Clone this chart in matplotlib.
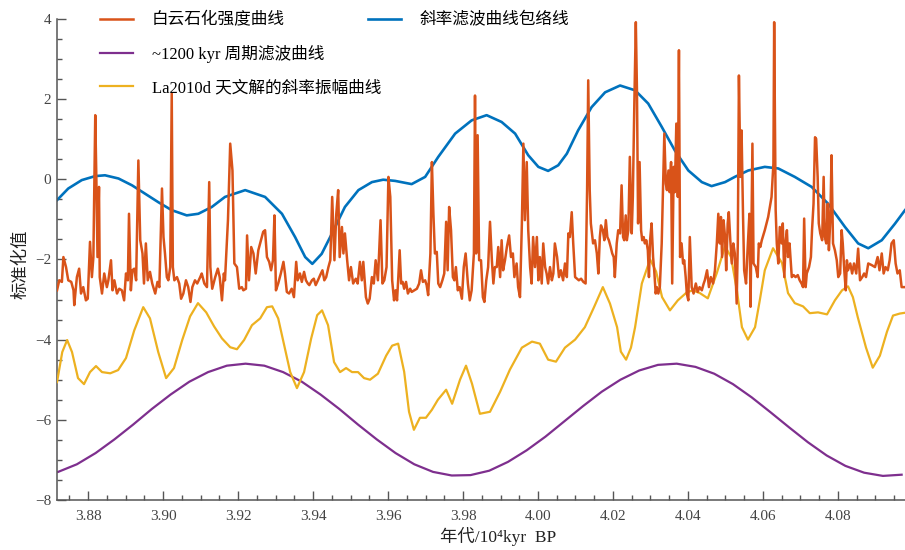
import matplotlib
matplotlib.use('Agg')
import matplotlib.pyplot as plt
from matplotlib.ticker import MultipleLocator

plt.rcParams['font.family'] = ['Liberation Serif', 'Noto Sans CJK SC']
plt.rcParams['axes.unicode_minus'] = True

# --- data (age in 10^4 kyr BP, standardized value) ---
red_age = [
    3.8717, 3.8723, 3.8730, 3.8734, 3.8741, 3.8747, 3.8755, 3.8761, 3.8763, 3.8770,
    3.8776, 3.8781, 3.8787, 3.8794, 3.8799, 3.8805, 3.8810, 3.8814, 3.8819, 3.8822,
    3.8825, 3.8829, 3.8831, 3.8837, 3.8843, 3.8850, 3.8854, 3.8861, 3.8865, 3.8870,
    3.8877, 3.8883, 3.8890, 3.8896, 3.8901, 3.8906, 3.8909, 3.8914, 3.8918, 3.8923,
    3.8928, 3.8934, 3.8939, 3.8945, 3.8949, 3.8954, 3.8959, 3.8965, 3.8971, 3.8979,
    3.8985, 3.8990, 3.8997, 3.9001, 3.9005, 3.9010, 3.9014, 3.9019, 3.9023, 3.9026,
    3.9030, 3.9037, 3.9043, 3.9048, 3.9054, 3.9061, 3.9067, 3.9073, 3.9078, 3.9085,
    3.9091, 3.9099, 3.9103, 3.9110, 3.9117, 3.9123, 3.9126, 3.9131, 3.9139, 3.9146,
    3.9151, 3.9157, 3.9162, 3.9165, 3.9173, 3.9179, 3.9185, 3.9190, 3.9197, 3.9203,
    3.9210, 3.9214, 3.9221, 3.9224, 3.9229, 3.9235, 3.9241, 3.9247, 3.9254, 3.9261,
    3.9267, 3.9272, 3.9277, 3.9283, 3.9288, 3.9293, 3.9297, 3.9301, 3.9307, 3.9314,
    3.9321, 3.9325, 3.9330, 3.9336, 3.9343, 3.9349, 3.9355, 3.9359, 3.9365, 3.9370,
    3.9376, 3.9381, 3.9386, 3.9390, 3.9397, 3.9402, 3.9407, 3.9413, 3.9419, 3.9425,
    3.9430, 3.9435, 3.9441, 3.9446, 3.9451, 3.9457, 3.9462, 3.9467, 3.9471, 3.9477,
    3.9481, 3.9485, 3.9491, 3.9496, 3.9501, 3.9507, 3.9514, 3.9519, 3.9525, 3.9530,
    3.9534, 3.9541, 3.9546, 3.9551, 3.9557, 3.9562, 3.9567, 3.9573, 3.9580, 3.9585,
    3.9590, 3.9596, 3.9601, 3.9606, 3.9611, 3.9616, 3.9620, 3.9624, 3.9627, 3.9631,
    3.9635, 3.9639, 3.9643, 3.9648, 3.9653, 3.9659, 3.9663, 3.9670, 3.9677, 3.9683,
    3.9688, 3.9693, 3.9699, 3.9703, 3.9707, 3.9713, 3.9717, 3.9721, 3.9725, 3.9730,
    3.9734, 3.9739, 3.9745, 3.9750, 3.9755, 3.9759, 3.9763, 3.9768, 3.9773, 3.9777,
    3.9781, 3.9786, 3.9791, 3.9797, 3.9802, 3.9807, 3.9813, 3.9818, 3.9823, 3.9829,
    3.9832, 3.9835, 3.9839, 3.9843, 3.9848, 3.9853, 3.9857, 3.9862, 3.9867, 3.9872,
    3.9877, 3.9881, 3.9885, 3.9890, 3.9894, 3.9899, 3.9903, 3.9907, 3.9912, 3.9917,
    3.9923, 3.9928, 3.9933, 3.9937, 3.9943, 3.9947, 3.9952, 3.9957, 3.9961, 3.9965,
    3.9970, 3.9974, 3.9979, 3.9983, 3.9987, 3.9992, 3.9997, 4.0001, 4.0005, 4.0010,
    4.0014, 4.0019, 4.0023, 4.0027, 4.0032, 4.0037, 4.0041, 4.0045, 4.0051, 4.0056,
    4.0061, 4.0067, 4.0072, 4.0077, 4.0081, 4.0085, 4.0090, 4.0094, 4.0099, 4.0104,
    4.0109, 4.0115, 4.0121, 4.0127, 4.0131, 4.0134, 4.0138, 4.0141, 4.0147, 4.0152,
    4.0157, 4.0161, 4.0165, 4.0168, 4.0173, 4.0177, 4.0181, 4.0185, 4.0189, 4.0194,
    4.0198, 4.0202, 4.0205, 4.0210, 4.0214, 4.0219, 4.0223, 4.0227, 4.0230, 4.0234,
    4.0237, 4.0241, 4.0245, 4.0250, 4.0253, 4.0257, 4.0261, 4.0264, 4.0267, 4.0271,
    4.0275, 4.0278, 4.0282, 4.0285, 4.0289, 4.0293, 4.0296, 4.0299, 4.0303, 4.0307,
    4.0310, 4.0314, 4.0317, 4.0321, 4.0325, 4.0330, 4.0333, 4.0337, 4.0341, 4.0344,
    4.0348, 4.0351, 4.0355, 4.0358, 4.0362, 4.0365, 4.0369, 4.0373, 4.0376, 4.0379,
    4.0383, 4.0387, 4.0390, 4.0394, 4.0397, 4.0401, 4.0405, 4.0410, 4.0415, 4.0421,
    4.0426, 4.0431, 4.0437, 4.0442, 4.0445, 4.0451, 4.0456, 4.0461, 4.0467, 4.0472,
    4.0477, 4.0481, 4.0485, 4.0488, 4.0491, 4.0495, 4.0499, 4.0502, 4.0506, 4.0509,
    4.0513, 4.0517, 4.0521, 4.0525, 4.0530, 4.0533, 4.0536, 4.0540, 4.0543, 4.0547,
    4.0550, 4.0555, 4.0559, 4.0564, 4.0567, 4.0572, 4.0575, 4.0581, 4.0586, 4.0589,
    4.0593, 4.0597, 4.0605, 4.0614, 4.0623, 4.0628, 4.0630, 4.0634, 4.0637, 4.0641,
    4.0645, 4.0650, 4.0653, 4.0657, 4.0661, 4.0664, 4.0667, 4.0671, 4.0677, 4.0682,
    4.0687, 4.0693, 4.0698, 4.0703, 4.0707, 4.0710, 4.0714, 4.0717, 4.0723, 4.0728,
    4.0731, 4.0735, 4.0739, 4.0742, 4.0746, 4.0749, 4.0753, 4.0758, 4.0762, 4.0765,
    4.0769, 4.0773, 4.0776, 4.0780, 4.0783, 4.0787, 4.0792, 4.0797, 4.0801, 4.0806,
    4.0810, 4.0813, 4.0817, 4.0821, 4.0824, 4.0827, 4.0833, 4.0838, 4.0843, 4.0849,
    4.0854, 4.0859, 4.0865, 4.0870, 4.0875, 4.0881, 4.0890, 4.0899, 4.0906, 4.0911,
    4.0917, 4.0922, 4.0927, 4.0933, 4.0938, 4.0943, 4.0949, 4.0954, 4.0959, 4.0965,
    4.0970, 4.0977,
]
red_val = [
    -2.77, -2.52, -2.56, -1.94, -2.19, -2.52, -2.56, -2.77, -3.14, -2.44,
    -2.23, -2.85, -2.69, -3.02, -2.98, -1.56, -2.44, -1.94, 1.60, -0.02,
    -1.94, -0.19, -2.44, -2.85, -2.35, -2.69, -2.52, -2.02, -2.77, -2.52,
    -2.85, -2.73, -2.77, -3.02, -2.35, -2.52, -0.86, -2.77, -2.27, -2.23,
    -2.52, 0.47, -1.52, -1.85, -2.60, -1.60, -2.52, -2.31, -2.60, -2.85,
    -2.56, -2.69, -0.23, -1.44, -1.85, -2.44, -2.52, -2.19, 2.14, -2.19,
    -2.52, -2.44, -2.60, -2.98, -2.85, -2.52, -2.69, -3.06, -2.69, -2.52,
    -2.60, -2.44, -2.35, -2.60, -2.69, -0.07, -2.19, -2.73, -2.44, -2.23,
    -2.44, -3.02, -2.35, -2.52, -1.02, 0.89, 0.22, -2.10, -2.19, -2.73,
    -2.69, -2.77, -2.73, -1.40, -2.52, -1.69, -1.85, -2.35, -1.77, -1.52,
    -1.31, -1.27, -1.94, -2.06, -2.27, -2.02, -0.90, -2.77, -2.60, -2.35,
    -2.06, -2.35, -2.81, -2.85, -2.73, -2.94, -2.06, -2.52, -2.35, -2.56,
    -2.31, -2.52, -2.60, -2.64, -2.52, -2.48, -2.64, -2.52, -2.39, -2.27,
    -2.52, -2.44, -2.19, -2.02, -0.44, -2.02, -0.86, -0.27, -1.94, -1.19,
    -1.85, -1.35, -2.02, -2.52, -2.19, -2.60, -2.48, -2.60, -2.06, -2.52,
    -2.06, -2.94, -3.10, -2.98, -2.44, -2.60, -2.02, -2.52, -1.02, -2.60,
    -2.52, -2.19, 0.06, -0.44, -2.52, -3.02, -2.77, -3.02, -2.52, -1.77,
    -2.60, -2.56, -2.73, -2.56, -2.85, -2.73, -2.81, -2.77, -2.73, -2.60,
    -2.27, -2.56, -2.52, -2.64, -2.89, -1.85, 0.43, -0.86, -1.85, -1.81,
    -2.60, -2.69, -2.52, -2.35, -1.06, -2.27, -0.69, -1.27, -2.44, -2.52,
    -2.19, -2.77, -2.69, -2.98, -2.19, -1.85, -2.60, -3.02, -2.77, -1.85,
    2.09, -1.85, 1.10, -2.02, -2.02, -2.94, -3.06, -2.52, -2.19, -1.06,
    -2.02, -2.60, -2.19, -2.19, -1.69, -2.44, -1.52, -2.27, -2.02, -1.69,
    -1.40, -1.94, -1.85, -2.44, -2.10, -2.69, -2.94, -1.10, 0.89, -1.02,
    0.43, -1.27, -2.19, -2.60, -1.44, -2.19, -1.44, -2.52, -1.94, -2.60,
    -1.60, -2.19, -2.35, -2.60, -2.19, -2.52, -2.35, -1.60, -1.94, -2.44,
    -2.27, -2.52, -2.10, -2.44, -1.35, -1.44, -0.82, -1.60, -2.44, -2.48,
    -2.52, -2.48, -2.56, -2.60, -0.27, 2.47, -0.27, -1.10, -1.60, -1.52,
    -1.85, -2.35, -1.44, -1.15, -1.27, -1.52, -1.02, -1.44, -1.52, -1.69,
    -1.85, -1.94, -2.44, -1.60, -1.27, -1.35, -0.15, -1.44, -1.52, -0.90,
    -1.52, -1.27, 0.56, -1.35, -0.44, 1.89, 3.92, 2.22, -1.10, 0.43,
    -1.27, -1.52, -1.44, -1.60, -1.52, -1.77, -2.44, -1.52, -1.10, -1.94,
    -2.27, -2.85, -2.69, -2.85, -2.69, -1.60, -0.44, 1.14, -0.11, -0.27,
    0.22, -0.32, 0.43, -2.60, 0.31, -0.32, 1.39, -0.44, 3.22, -1.94,
    -1.60, -2.10, -2.02, -2.44, -2.85, -3.02, -1.44, -2.69, -2.85, -2.60,
    -2.81, -2.69, -2.77, -2.60, -2.52, -2.27, -2.69, -2.44, -2.60, -2.27,
    -1.60, -0.86, -1.60, -0.94, -1.94, -1.02, -1.44, -2.27, -1.10, -0.82,
    -1.52, -2.10, -1.60, -1.85, -3.10, -1.60, 2.59, 0.06, 1.22, -0.94,
    -2.27, -2.60, -1.77, -0.86, -3.18, 0.89, -2.10, -2.19, -2.44, -1.60,
    -1.69, -1.52, -1.27, -0.94, -0.44, 0.39, 3.92, -0.77, -1.60, -2.10,
    -1.19, -1.60, -1.10, -2.44, -1.52, -1.27, -1.94, -1.60, -2.44, -2.39,
    -2.44, -2.39, -2.52, -2.60, -2.69, -0.98, -2.69, -2.35, -2.19, -1.94,
    -1.27, -0.61, 1.05, 1.01, 0.06, -1.10, -1.35, -1.52, 0.06, -1.44,
    -1.60, -0.61, -1.77, -0.94, 0.60, -1.60, -1.77, -2.02, -2.44, -2.35,
    -1.27, -1.60, -2.27, -2.77, -2.02, -2.27, -2.10, -2.35, -2.10, -2.35,
    -1.73, -2.52, -2.44, -2.35, -2.44, -2.10, -2.14, -2.19, -1.94, -2.27,
    -1.85, -2.35, -2.19, -2.27, -2.02, -1.60, -1.52, -2.10, -2.35, -2.27,
    -2.69, -2.69,
]

env_age = [
    3.8717, 3.8747, 3.8783, 3.8819, 3.8845, 3.8881, 3.8917, 3.8952, 3.8987, 3.9023,
    3.9063, 3.9094, 3.9130, 3.9165, 3.9219, 3.9272, 3.9317, 3.9352, 3.9379, 3.9398,
    3.9423, 3.9450, 3.9485, 3.9521, 3.9557, 3.9587, 3.9619, 3.9663, 3.9699, 3.9734,
    3.9779, 3.9823, 3.9863, 3.9903, 3.9939, 3.9974, 4.0001, 4.0027, 4.0054, 4.0077,
    4.0107, 4.0143, 4.0179, 4.0219, 4.0259, 4.0294, 4.0330, 4.0365, 4.0401, 4.0437,
    4.0463, 4.0499, 4.0525, 4.0561, 4.0605, 4.0641, 4.0685, 4.0730, 4.0774, 4.0819,
    4.0854, 4.0881, 4.0917, 4.0952, 4.0979,
]
env_val = [
    -0.52, -0.23, -0.02, 0.08, 0.10, 0.02, -0.15, -0.36, -0.57, -0.77,
    -0.90, -0.86, -0.69, -0.44, -0.27, -0.44, -0.86, -1.44, -1.94, -2.11,
    -1.86, -1.36, -0.69, -0.27, -0.07, -0.01, -0.04, -0.12, 0.06, 0.56,
    1.14, 1.47, 1.60, 1.43, 1.14, 0.60, 0.31, 0.21, 0.35, 0.64,
    1.22, 1.80, 2.17, 2.34, 2.22, 1.89, 1.31, 0.72, 0.22, -0.07,
    -0.17, -0.07, 0.06, 0.22, 0.31, 0.27, 0.06, -0.19, -0.61, -1.19,
    -1.60, -1.72, -1.52, -1.11, -0.77,
]

p1200_age = [
    3.872, 3.877, 3.882, 3.887, 3.892, 3.897, 3.902, 3.907, 3.912, 3.917,
    3.922, 3.927, 3.932, 3.937, 3.942, 3.947, 3.952, 3.957, 3.962, 3.967,
    3.972, 3.977, 3.982, 3.987, 3.992, 3.997, 4.002, 4.007, 4.012, 4.017,
    4.022, 4.027, 4.032, 4.037, 4.042, 4.047, 4.052, 4.057, 4.062, 4.067,
    4.072, 4.077, 4.082, 4.087, 4.092, 4.097,
]
p1200_val = [
    -7.30, -7.11, -6.83, -6.49, -6.12, -5.73, -5.37, -5.05, -4.81, -4.65,
    -4.60, -4.65, -4.81, -5.05, -5.37, -5.73, -6.12, -6.49, -6.83, -7.11,
    -7.30, -7.39, -7.38, -7.27, -7.05, -6.76, -6.42, -6.04, -5.66, -5.30,
    -5.00, -4.77, -4.63, -4.60, -4.68, -4.85, -5.11, -5.44, -5.81, -6.19,
    -6.56, -6.89, -7.15, -7.32, -7.40, -7.37,
]

la_age = [
    3.8717, 3.8731, 3.8744, 3.8757, 3.8773, 3.8789, 3.8805, 3.8821, 3.8837, 3.8859,
    3.8880, 3.8901, 3.8923, 3.8947, 3.8965, 3.8987, 3.9008, 3.9029, 3.9051, 3.9072,
    3.9093, 3.9115, 3.9136, 3.9157, 3.9179, 3.9197, 3.9216, 3.9237, 3.9259, 3.9277,
    3.9291, 3.9307, 3.9323, 3.9339, 3.9357, 3.9376, 3.9395, 3.9411, 3.9424, 3.9440,
    3.9456, 3.9472, 3.9488, 3.9504, 3.9520, 3.9536, 3.9552, 3.9573, 3.9595, 3.9611,
    3.9627, 3.9643, 3.9656, 3.9669, 3.9685, 3.9701, 3.9717, 3.9733, 3.9755, 3.9771,
    3.9792, 3.9808, 3.9824, 3.9845, 3.9872, 3.9899, 3.9925, 3.9957, 3.9984, 4.0005,
    4.0027, 4.0048, 4.0072, 4.0099, 4.0125, 4.0149, 4.0173, 4.0192, 4.0211, 4.0221,
    4.0235, 4.0248, 4.0259, 4.0277, 4.0299, 4.0315, 4.0331, 4.0352, 4.0373, 4.0397,
    4.0413, 4.0432, 4.0453, 4.0477, 4.0499, 4.0515, 4.0531, 4.0544, 4.0560, 4.0579,
    4.0592, 4.0605, 4.0627, 4.0651, 4.0667, 4.0685, 4.0707, 4.0725, 4.0747, 4.0771,
    4.0792, 4.0811, 4.0827, 4.0840, 4.0853, 4.0875, 4.0893, 4.0912, 4.0931, 4.0947,
    4.0965, 4.0979,
]
la_val = [
    -5.06, -4.31, -4.01, -4.31, -4.96, -5.11, -4.81, -4.66, -4.81, -4.84,
    -4.76, -4.46, -3.77, -3.19, -3.47, -4.31, -4.96, -4.71, -4.01, -3.42,
    -3.09, -3.32, -3.67, -3.97, -4.19, -4.24, -4.01, -3.64, -3.47, -3.19,
    -3.17, -3.47, -4.14, -4.81, -5.21, -4.81, -3.97, -3.39, -3.27, -3.64,
    -4.56, -4.81, -4.71, -4.81, -4.81, -4.96, -5.00, -4.85, -4.40, -4.15,
    -4.10, -4.80, -5.80, -6.25, -5.95, -5.95, -5.75, -5.50, -5.25, -5.60,
    -5.00, -4.65, -5.10, -5.85, -5.80, -5.30, -4.75, -4.20, -4.05, -4.10,
    -4.50, -4.55, -4.20, -4.00, -3.69, -3.20, -2.69, -3.10, -3.69, -4.30,
    -4.50, -4.20, -3.69, -2.60, -2.00, -2.30, -2.94, -3.27, -3.02, -2.82,
    -2.77, -2.84, -2.97, -2.34, -1.67, -1.94, -2.80, -3.69, -4.00, -3.69,
    -3.00, -2.27, -1.72, -2.09, -2.84, -3.09, -3.17, -3.34, -3.32, -3.37,
    -3.02, -2.77, -2.67, -2.94, -3.44, -4.20, -4.70, -4.40, -3.80, -3.40,
    -3.35, -3.33,
]

labels = ['白云石化强度曲线', '斜率滤波曲线包络线', '~1200 kyr 周期滤波曲线', 'La2010d 天文解的斜率振幅曲线']
colors = ['#D95319', '#0072BD', '#7E2F8E', '#EDB120']


def main():
    fig = plt.figure(figsize=(9.05, 5.5), dpi=100)
    ax = fig.add_axes([0.063, 0.091, 0.937, 0.8745])

    l_env, = ax.plot(env_age, env_val, color=colors[1], lw=1.9, zorder=2)
    l_p12, = ax.plot(p1200_age, p1200_val, color=colors[2], lw=1.6, zorder=2)
    l_la, = ax.plot(la_age, la_val, color=colors[3], lw=1.6, zorder=3)
    l_red, = ax.plot(red_age, red_val, color=colors[0], lw=1.8, zorder=4)

    ax.set_xlim(3.8717, 4.0979)
    ax.set_ylim(-8, 4)

    ax.xaxis.set_major_locator(MultipleLocator(0.02))
    ax.xaxis.set_minor_locator(MultipleLocator(0.005))
    ax.yaxis.set_major_locator(MultipleLocator(2))
    ax.yaxis.set_minor_locator(MultipleLocator(0.5))
    ax.xaxis.set_major_formatter(plt.FormatStrFormatter('%.2f'))

    for s in ['top', 'right']:
        ax.spines[s].set_visible(False)
    for s in ['left', 'bottom']:
        ax.spines[s].set_color('#555555')
        ax.spines[s].set_linewidth(1.1)

    ax.tick_params(which='both', direction='in', colors='#555555', width=1.0,
                   labelsize=11, labelcolor='#444444')
    ax.tick_params(which='major', length=6.5)
    ax.tick_params(which='minor', length=3.5)
    ax.tick_params(axis='x', which='major', pad=7)
    ax.tick_params(axis='y', which='major', pad=4)

    ax.set_xlabel('年代/10⁴kyr  BP', fontsize=12.5, color='#222222')
    ax.xaxis.set_label_coords(0.52, -0.056)
    ax.set_ylabel('标准化值', fontsize=12.5, color='#222222')
    ax.yaxis.set_label_coords(-0.032, 0.49)

    leg_kw = dict(frameon=False, fontsize=12, loc='upper left', borderpad=0,
                  borderaxespad=0, handlelength=2.0, handletextpad=1.1,
                  labelspacing=1.0, bbox_transform=fig.transFigure)
    leg1 = ax.legend([l_red, l_p12, l_la], [labels[0], labels[2], labels[3]],
                     bbox_to_anchor=(0.1105, 0.977), **leg_kw)
    ax.add_artist(leg1)
    ax.legend([l_env], [labels[1]], bbox_to_anchor=(0.4066, 0.977), **leg_kw)

    fig.savefig('out.png', dpi=100)


if __name__ == '__main__':
    main()
